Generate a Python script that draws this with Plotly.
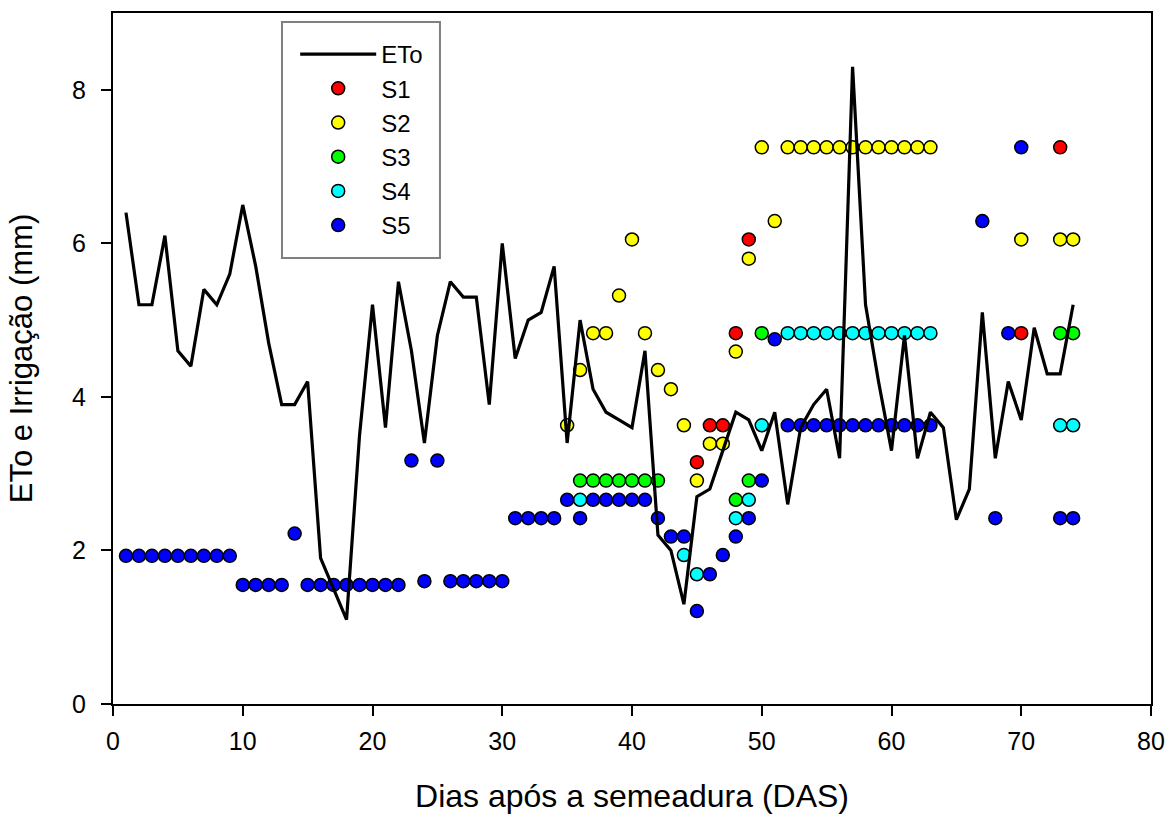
import plotly.graph_objects as go

# ---------------- data ----------------
eto_days = list(range(1, 75))
eto_vals = [6.4, 5.2, 5.2, 6.1, 4.6, 4.4, 5.4, 5.2, 5.6, 6.5,
            5.7, 4.7, 3.9, 3.9, 4.2, 1.9, 1.5, 1.1, 3.5, 5.2,
            3.6, 5.5, 4.6, 3.4, 4.8, 5.5, 5.3, 5.3, 3.9, 6.0,
            4.5, 5.0, 5.1, 5.7, 3.4, 5.0, 4.1, 3.8, 3.7, 3.6,
            4.6, 2.2, 2.0, 1.3, 2.7, 2.8, 3.3, 3.8, 3.7, 3.3,
            3.8, 2.6, 3.6, 3.9, 4.1, 3.2, 8.3, 5.2, 4.2, 3.3,
            4.8, 3.2, 3.8, 3.6, 2.4, 2.8, 5.1, 3.2, 4.2, 3.7,
            4.9, 4.3, 4.3, 5.2]

s1_days = [45, 46, 47, 48, 49, 70, 73]
s1_vals = [3.15, 3.63, 3.63, 4.83, 6.05, 4.83, 7.25]

s2_days = [35, 36, 37, 38, 39, 40, 41, 42, 43, 44, 45, 46, 47, 48, 49, 50, 51,
           52, 53, 54, 55, 56, 57, 58, 59, 60, 61, 62, 63, 70, 73, 74]
s2_vals = [3.63, 4.35, 4.83, 4.83, 5.32, 6.05, 4.83, 4.35, 4.10, 3.63, 2.91,
           3.39, 3.39, 4.59, 5.80, 7.25, 6.29,
           7.25, 7.25, 7.25, 7.25, 7.25, 7.25, 7.25, 7.25, 7.25, 7.25, 7.25, 7.25,
           6.05, 6.05, 6.05]

s3_days = [36, 37, 38, 39, 40, 41, 42, 48, 49, 50, 73, 74]
s3_vals = [2.91, 2.91, 2.91, 2.91, 2.91, 2.91, 2.91, 2.66, 2.91, 4.83, 4.83, 4.83]

s4_days = [36, 44, 45, 48, 49, 50,
           52, 53, 54, 55, 56, 57, 58, 59, 60, 61, 62, 63, 73, 74]
s4_vals = [2.66, 1.94, 1.69, 2.42, 2.66, 3.63,
           4.83, 4.83, 4.83, 4.83, 4.83, 4.83, 4.83, 4.83, 4.83, 4.83, 4.83, 4.83,
           3.63, 3.63]

s5_days = [1, 2, 3, 4, 5, 6, 7, 8, 9,
           10, 11, 12, 13, 14,
           15, 16, 17, 18, 19, 20, 21, 22,
           23, 24, 25, 26, 27, 28, 29, 30,
           31, 32, 33, 34, 35, 36, 37, 38, 39, 40, 41, 42,
           43, 44, 45, 46, 47, 48, 49, 50, 51,
           52, 53, 54, 55, 56, 57, 58, 59, 60, 61, 62, 63,
           67, 68, 69, 70, 73, 74]
s5_vals = [1.93, 1.93, 1.93, 1.93, 1.93, 1.93, 1.93, 1.93, 1.93,
           1.55, 1.55, 1.55, 1.55, 2.22,
           1.55, 1.55, 1.55, 1.55, 1.55, 1.55, 1.55, 1.55,
           3.17, 1.60, 3.17, 1.60, 1.60, 1.60, 1.60, 1.60,
           2.42, 2.42, 2.42, 2.42, 2.66, 2.42, 2.66, 2.66, 2.66, 2.66, 2.66, 2.42,
           2.18, 2.18, 1.21, 1.69, 1.94, 2.18, 2.42, 2.91, 4.75,
           3.63, 3.63, 3.63, 3.63, 3.63, 3.63, 3.63, 3.63, 3.63, 3.63, 3.63, 3.63,
           6.29, 2.42, 4.83, 7.25, 2.42, 2.42]

x_ticks = [0, 10, 20, 30, 40, 50, 60, 70, 80]
y_ticks = [0, 2, 4, 6, 8]

series = [
    ("S1", s1_days, s1_vals, "#FF0000"),
    ("S2", s2_days, s2_vals, "#FFFF00"),
    ("S3", s3_days, s3_vals, "#00FF00"),
    ("S4", s4_days, s4_vals, "#00FFFF"),
    ("S5", s5_days, s5_vals, "#0000FF"),
]

FONT = "Liberation Sans, Arial, sans-serif"

fig = go.Figure()
for i, (name, d, v, c) in enumerate(series):
    fig.add_trace(go.Scatter(
        x=d, y=v, mode="markers", name=name, legendrank=2 + i,
        marker=dict(size=13, color=c, line=dict(color="black", width=1.5)),
    ))

fig.add_trace(go.Scatter(
    x=eto_days, y=eto_vals, mode="lines", name="ETo", legendrank=1,
    line=dict(color="black", width=3.2),
))

axis_common = dict(
    showline=True, linecolor="black", linewidth=2, mirror=True,
    ticks="outside", ticklen=10, tickwidth=2, tickcolor="black",
    showgrid=False, zeroline=False, automargin=False,
    tickfont=dict(family=FONT, size=25, color="black"),
)

fig.update_xaxes(range=[0, 80], tickvals=x_ticks, ticklabelstandoff=4,
                 title=dict(text="Dias após a semeadura (DAS)",
                            font=dict(family=FONT, size=32, color="black"),
                            standoff=37),
                 **axis_common)
fig.update_yaxes(range=[0, 9], tickvals=y_ticks, ticklabelstandoff=10,
                 title=dict(text="ETo e Irrigação (mm)",
                            font=dict(family=FONT, size=31, color="black"),
                            standoff=30),
                 **axis_common)

# legend frame (grey box)
fig.add_shape(type="rect", xref="paper", yref="paper",
              x0=0.1628, x1=0.315, y0=0.6454, y1=0.987,
              line=dict(color="#808080", width=2), fillcolor="white",
              layer="above")

fig.update_layout(
    width=1168, height=814,
    margin=dict(l=113, r=17, t=13, b=110),
    paper_bgcolor="white", plot_bgcolor="white",
    font=dict(family=FONT, color="black"),
    legend=dict(
        x=0.163, y=0.9725, xanchor="left", yanchor="top",
        bgcolor="rgba(0,0,0,0)", borderwidth=0,
        font=dict(family=FONT, size=24, color="black"),
        itemwidth=76, indentation=13,
    ),
)

fig.write_html("out.html",
               config={"displayModeBar": False},
               post_script="document.body.style.margin='0';"
                           "document.body.style.overflow='hidden';")
